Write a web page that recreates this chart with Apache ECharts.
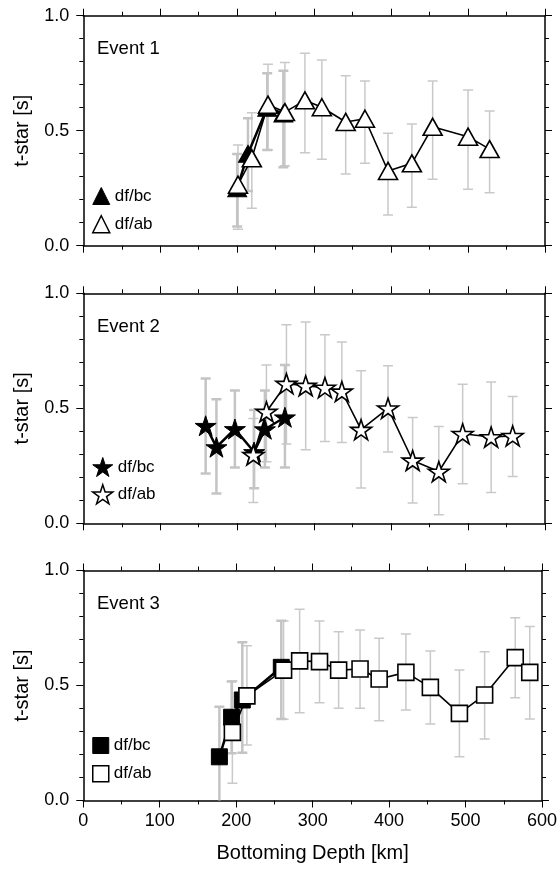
<!DOCTYPE html>
<html>
<head>
<meta charset="utf-8">
<script src="https://cdn.jsdelivr.net/npm/echarts@6/dist/echarts.min.js"></script>
<style>html,body{margin:0;padding:0;background:#fff}#c{width:560px;height:873px}</style>
</head>
<body>
<div id="c"></div>
<script>
// ---------- data ----------
const xTicks = [0, 100, 200, 300, 400, 500, 600];
const yTicks = [0.0, 0.5, 1.0];
const eventNames = ['Event 1', 'Event 2', 'Event 3'];

// Event 1 : triangles
const e1bcX  = [200, 214, 239, 260];
const e1bcY  = [0.25, 0.40, 0.60, 0.575];
const e1bcLo = [0.083, 0.238, 0.416, 0.341];
const e1bcHi = [0.399, 0.554, 0.75, 0.761];
const e1abX  = [201, 219, 240, 262, 288, 310, 341, 366, 396, 427, 454, 500, 528];
const e1abY  = [0.265, 0.38, 0.613, 0.581, 0.632, 0.602, 0.538, 0.552, 0.325, 0.358, 0.517, 0.474, 0.42];
const e1abLo = [0.071, 0.163, 0.416, 0.348, 0.404, 0.376, 0.312, 0.358, 0.133, 0.167, 0.289, 0.245, 0.23];
const e1abHi = [0.438, 0.578, 0.789, 0.796, 0.837, 0.807, 0.739, 0.716, 0.489, 0.529, 0.716, 0.677, 0.586];

// Event 2 : stars
const e2bcX  = [159, 173, 197, 222, 236, 262];
const e2bcY  = [0.424, 0.331, 0.41, 0.31, 0.409, 0.461];
const e2bcLo = [0.217, 0.130, 0.243, 0.152, 0.243, 0.243];
const e2bcHi = [0.630, 0.539, 0.577, 0.493, 0.577, 0.688];
const e2abX  = [221, 238, 264, 289, 314, 336, 361, 396, 428, 462, 493, 530, 558];
const e2abY  = [0.297, 0.485, 0.607, 0.598, 0.59, 0.573, 0.407, 0.50, 0.273, 0.225, 0.389, 0.375, 0.38];
const e2abLo = [0.09, 0.268, 0.345, 0.32, 0.356, 0.351, 0.153, 0.31, 0.088, 0.037, 0.172, 0.134, 0.203];
const e2abHi = [0.456, 0.688, 0.863, 0.875, 0.82, 0.788, 0.663, 0.685, 0.46, 0.421, 0.605, 0.614, 0.551];

// Event 3 : squares
const e3bcX  = [178, 194, 208, 259];
const e3bcY  = [0.19, 0.362, 0.437, 0.579];
const e3bcLo = [-0.03, 0.205, 0.208, 0.354];
const e3bcHi = [0.408, 0.517, 0.688, 0.782];
const e3abX  = [195, 214, 262, 283, 309, 334, 362, 387, 422, 454, 492, 525, 565, 584];
const e3abY  = [0.296, 0.455, 0.567, 0.607, 0.604, 0.567, 0.572, 0.528, 0.557, 0.492, 0.379, 0.459, 0.621, 0.557];
const e3abLo = [0.075, 0.241, 0.353, 0.382, 0.425, 0.401, 0.401, 0.347, 0.393, 0.333, 0.19, 0.267, 0.447, 0.354];
const e3abHi = [0.52, 0.673, 0.78, 0.831, 0.78, 0.734, 0.741, 0.705, 0.724, 0.65, 0.567, 0.647, 0.795, 0.756];

// ---------- chart ----------
const FONT = "'Liberation Sans', Arial, Helvetica, sans-serif";
const STAR = 'path://M50 0 L61.23 34.55 L97.55 34.55 L68.17 55.9 L79.39 90.45 L50 69.1 L20.61 90.45 L31.83 55.9 L2.45 34.55 L38.77 34.55 Z';

const panels = [
  {bcX:e1bcX, bcY:e1bcY, bcLo:e1bcLo, bcHi:e1bcHi, abX:e1abX, abY:e1abY, abLo:e1abLo, abHi:e1abHi,
   sym:'triangle', size:[19,17], legSize:[17,17], legGap:10, legTop:187},
  {bcX:e2bcX, bcY:e2bcY, bcLo:e2bcLo, bcHi:e2bcHi, abX:e2abX, abY:e2abY, abLo:e2abLo, abHi:e2abHi,
   sym:STAR, size:21, legSize:[20,20], legGap:7, legTop:457},
  {bcX:e3bcX, bcY:e3bcY, bcLo:e3bcLo, bcHi:e3bcHi, abX:e3abX, abY:e3abY, abLo:e3abLo, abHi:e3abHi,
   sym:'rect', size:16, legSize:[16,16], legGap:11, legTop:737}
];
const gridTops = [15.7, 293.3, 570.5];
const GH = 230, GL = 83.3, GW = 461.7;

function zip(a, b) { return a.map((v, i) => [v, b[i]]); }
function zip3(a, b, c) { return a.map((v, i) => [v, b[i], c[i]]); }

function errRender(width, color) {
  return function (params, api) {
    const x = api.value(0), lo = api.value(1), hi = api.value(2);
    const p1 = api.coord([x, hi]), p2 = api.coord([x, lo]);
    const cw = 5;
    const style = {stroke: color, lineWidth: width, fill: null};
    return {type: 'group', children: [
      {type: 'line', shape: {x1: p1[0], y1: p1[1], x2: p2[0], y2: p2[1]}, style: style},
      {type: 'line', shape: {x1: p1[0] - cw, y1: p1[1], x2: p1[0] + cw, y2: p1[1]}, style: style},
      {type: 'line', shape: {x1: p2[0] - cw, y1: p2[1], x2: p2[0] + cw, y2: p2[1]}, style: style}
    ]};
  };
}

const grid = [], xAxis = [], yAxis = [], series = [], legend = [], title = [];
const axisLine = {show: true, onZero: false, lineStyle: {color: '#000', width: 1.5}};
const tick = {show: true, inside: false, length: 7, lineStyle: {color: '#000', width: 1}};

panels.forEach((p, i) => {
  grid.push({left: GL, top: gridTops[i], width: GW, height: GH, containLabel: false});
  const xa = {
    gridIndex: i, type: 'value', min: xTicks[0], max: xTicks[xTicks.length - 1], interval: 100,
    axisLine: axisLine, axisTick: tick,
    minorTick: {show: true, splitNumber: 2, length: 4, lineStyle: {color: '#000', width: 1}},
    splitLine: {show: false}, minorSplitLine: {show: false}
  };
  xAxis.push(Object.assign({}, xa, {
    position: 'bottom',
    axisLabel: {show: i === 2, color: '#000', fontSize: 18, fontFamily: FONT, margin: 12},
    name: i === 2 ? 'Bottoming Depth [km]' : '', nameLocation: 'middle', nameGap: 43,
    nameTextStyle: {color: '#000', fontSize: 20, fontFamily: FONT}
  }));
  xAxis.push(Object.assign({}, xa, {position: 'top', axisLabel: {show: false}}));
  const ya = {
    gridIndex: i, type: 'value', min: yTicks[0], max: yTicks[yTicks.length - 1], interval: 0.5,
    axisLine: axisLine, axisTick: tick,
    minorTick: {show: true, splitNumber: 5, length: 4, lineStyle: {color: '#000', width: 1}},
    splitLine: {show: false}, minorSplitLine: {show: false}
  };
  yAxis.push(Object.assign({}, ya, {
    position: 'left',
    axisLabel: {show: true, color: '#000', fontSize: 18, fontFamily: FONT, margin: 14,
                formatter: v => v.toFixed(1)},
    name: 't-star [s]', nameLocation: 'middle', nameGap: 51, nameRotate: 90,
    nameTextStyle: {color: '#000', fontSize: 20, fontFamily: FONT}
  }));
  yAxis.push(Object.assign({}, ya, {position: 'right', axisLabel: {show: false}}));

  const xi = i * 2, yi = i * 2;
  series.push({
    type: 'custom', xAxisIndex: xi, yAxisIndex: yi, clip: true, silent: true, z: 1,
    renderItem: errRender(1.5, '#c9c9c9'), encode: {x: 0, y: [1, 2]},
    data: zip3(p.abX, p.abLo, p.abHi)
  });
  series.push({
    type: 'custom', xAxisIndex: xi, yAxisIndex: yi, clip: true, silent: true, z: 1,
    renderItem: errRender(2.5, '#c4c4c4'), encode: {x: 0, y: [1, 2]},
    data: zip3(p.bcX, p.bcLo, p.bcHi)
  });
  series.push({
    name: 'df/bc#' + (i + 1), type: 'line', xAxisIndex: xi, yAxisIndex: yi, z: 3,
    data: zip(p.bcX, p.bcY), symbol: p.sym, symbolSize: p.size, symbolKeepAspect: true,
    showAllSymbol: true,
    itemStyle: {color: '#000', borderColor: '#000', borderWidth: 1},
    lineStyle: {color: '#000', width: 2.5}
  });
  series.push({
    name: 'df/ab#' + (i + 1), type: 'line', xAxisIndex: xi, yAxisIndex: yi, z: 4,
    data: zip(p.abX, p.abY), symbol: p.sym, symbolSize: p.size, symbolKeepAspect: true,
    showAllSymbol: true,
    itemStyle: {color: '#fff', borderColor: '#000', borderWidth: 1.6},
    lineStyle: {color: '#000', width: 1.6}
  });

  legend.push({
    orient: 'vertical', left: 92, top: p.legTop, itemWidth: p.legSize[0], itemHeight: p.legSize[1],
    itemGap: p.legGap, selectedMode: false, padding: 0,
    formatter: n => n.split('#')[0],
    textStyle: {color: '#000', fontSize: 17, fontFamily: FONT, padding: [7, 0, 0, 0]},
    data: [
      {name: 'df/bc#' + (i + 1), icon: p.sym, itemStyle: {color: '#000', borderColor: '#000', borderWidth: 1}},
      {name: 'df/ab#' + (i + 1), icon: p.sym, itemStyle: {color: '#fff', borderColor: '#000', borderWidth: 1.5}}
    ]
  });

  title.push({
    text: eventNames[i], left: 97, top: gridTops[i] + 24, padding: 0,
    textStyle: {color: '#000', fontSize: 18.5, fontWeight: 'normal', fontFamily: FONT}
  });
});

const chart = echarts.init(document.getElementById('c'), null, {renderer: 'canvas'});
chart.setOption({
  animation: false,
  backgroundColor: '#fff',
  textStyle: {fontFamily: FONT},
  title: title, grid: grid, xAxis: xAxis, yAxis: yAxis, legend: legend, series: series
});
</script>
</body>
</html>
